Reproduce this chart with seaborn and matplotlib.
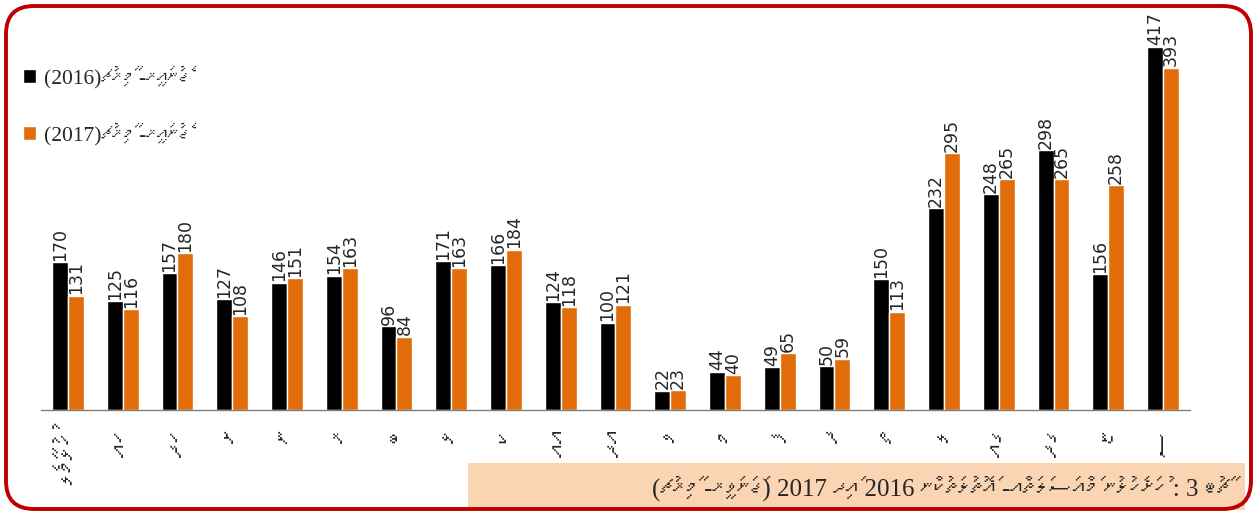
import matplotlib
matplotlib.use("Agg")
import matplotlib.pyplot as plt
from matplotlib import font_manager
from matplotlib.ft2font import FT2Font
from matplotlib.patches import FancyBboxPatch, Rectangle, Patch
from matplotlib.transforms import IdentityTransform
import pandas as pd
import seaborn as sns

# データ
atolls = ["ހުޅުމާލެ", "ހއ", "ހދ", "ށ", "ނ", "ރ", "ބ", "ޅ", "ކ", "އއ", "އދ",
          "ވ", "މ", "ފ", "ދ", "ތ", "ލ", "ގއ", "ގދ", "ޏ", "ސ"]
values_2016 = [170, 125, 157, 127, 146, 154, 96, 171, 166, 124, 100,
               22, 44, 49, 50, 150, 232, 248, 298, 156, 417]
values_2017 = [131, 116, 180, 108, 151, 163, 84, 163, 184, 118, 121,
               23, 40, 65, 59, 113, 295, 265, 265, 258, 393]
series_labels = ["ޖެނުއަރީ- މާރިޗު(2016)", "ޖެނުއަރީ- މާރިޗު(2017)"]
caption = "ޗާޓު 3 : ހުށަހެޅުނު މައްސަލަތައް- އަތޮޅުތަކުން 2016 އަދި 2017 (ޖަނަވަރީ- މާރިޗު)"

BLACK = "#000000"
ORANGE = "#E36C0A"


def find_thaana_font():
    # ターナ文字を持つフォントを探す
    for f in font_manager.fontManager.ttflist:
        try:
            cmap = FT2Font(f.fname).get_charmap()
        except Exception:
            continue
        if 0x0780 in cmap and 0x07A6 in cmap:
            return f.name
    return None


def rtl(s):
    """右から左の文字列を左から右の描画順に並べ替える（簡易版）"""
    clusters = []
    for ch in s:
        if clusters and "\u07a6" <= ch <= "\u07b0":
            clusters[-1] += ch
        else:
            clusters.append(ch)
    tokens = []
    for c in clusters:
        if c.isdigit() and tokens and tokens[-1][-1].isdigit():
            tokens[-1] += c
        else:
            tokens.append(c)
    mirror = {"(": ")", ")": "("}
    return "".join(mirror.get(t, t) for t in reversed(tokens))


sns.set_theme(style="white")
thaana = find_thaana_font()
sans = ["DejaVu Sans"] + ([thaana] if thaana else [])
serif = ["Liberation Serif"] + ([thaana] if thaana else [])
plt.rcParams["font.family"] = sans

df = pd.DataFrame({
    "atoll": atolls * 2,
    "count": values_2016 + values_2017,
    "year": ["2016"] * len(atolls) + ["2017"] * len(atolls),
})

fig = plt.figure(figsize=(12.57, 5.15), dpi=100)
ax = fig.add_axes([0.0323, 0.2039, 0.9147, 0.7611])

sns.barplot(data=df, x="atoll", y="count", hue="year", order=atolls,
            palette=[BLACK, ORANGE], width=0.58, saturation=1,
            legend=False, ax=ax)

ax.set_ylim(0, 450)
ax.set_xlim(-0.5, len(atolls) - 0.5)
ax.set_xlabel("")
ax.set_ylabel("")
ax.set_yticks([])
for side in ["top", "right", "left"]:
    ax.spines[side].set_visible(False)
ax.spines["bottom"].set_color("#7f7f7f")
ax.spines["bottom"].set_linewidth(1.0)

ax.set_xticks(range(len(atolls)))
ax.set_xticklabels([rtl(a) for a in atolls], rotation=90, fontsize=20,
                   family=serif)
ax.tick_params(axis="x", length=0, pad=14)

for cont in ax.containers:
    ax.bar_label(cont, fmt="%d", rotation=90, padding=1, fontsize=12.5)

# 凡例
handles = [Patch(facecolor=BLACK), Patch(facecolor=ORANGE)]
fig.legend(handles, [rtl(s) for s in series_labels], loc="upper left",
           bbox_to_anchor=(0.003, 0.91), frameon=False, handlelength=0.62,
           handleheight=0.62, handletextpad=0.35, labelspacing=1.6,
           prop={"family": serif, "size": 15.5})

# キャプション
fig.patches.append(Rectangle((0.3723, 0.0097), 0.618, 0.0913,
                             transform=fig.transFigure, facecolor="#FBD4B4",
                             edgecolor="none", zorder=0))
fig.text(0.978, 0.052, rtl(caption), ha="right", va="center", fontsize=18,
         family=serif, zorder=2)

# 枠線
fig.patches.append(FancyBboxPatch((6, 6), 1245, 503,
                                  boxstyle="round,pad=0,rounding_size=28",
                                  transform=IdentityTransform(),
                                  facecolor="none", edgecolor="#C00000",
                                  linewidth=2.8, zorder=5))

fig.savefig("out.png", dpi=100)
